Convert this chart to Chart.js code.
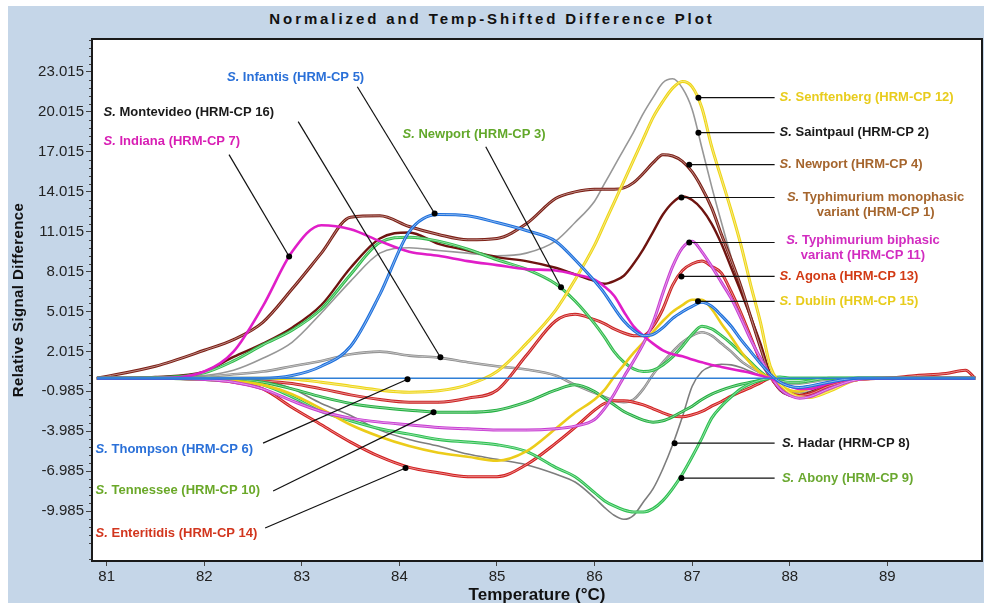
<!DOCTYPE html>
<html>
<head>
<meta charset="utf-8">
<script src="https://cdn.jsdelivr.net/npm/chart.js@4.4.0/dist/chart.umd.min.js"></script>
<style>
  html, body { margin: 0; padding: 0; background: #fff; }
  #panel { position: absolute; left: 8px; top: 6px; width: 976px; height: 597px; background: #c5d6e8; }
  #title { position: absolute; left: 0; top: 10px; width: 984px; text-align: center; line-height: 18px;
           font: bold 15px "Liberation Sans", Arial, sans-serif; letter-spacing: 2.9px; color: #111; }
  canvas { position: absolute; left: 0; top: 0; }
</style>
</head>
<body>
<div id="panel"></div>
<div id="title">Normalized and Temp-Shifted Difference Plot</div>
<canvas id="chart" width="984" height="603"></canvas>
<script>
// temperatures (°C) shared by every curve
const temps = [80.9, 81.5, 82, 82.3, 82.6, 82.9, 83.2, 83.5, 83.8, 84.1, 84.4, 84.7, 85, 85.3, 85.6,
  85.8, 86, 86.1, 86.2, 86.3, 86.4, 86.5, 86.6, 86.7, 86.8, 86.9, 87, 87.1, 87.2, 87.3, 87.4, 87.5, 87.6, 87.7,
  87.8, 87.9, 88, 88.1, 88.2, 88.4, 88.7, 89, 89.3, 89.6, 89.8, 89.9];

const xTicks = [81, 82, 83, 84, 85, 86, 87, 88, 89];
const yTicks = [-9.985, -6.985, -3.985, -0.985, 2.015, 5.015, 8.015, 11.015, 14.015, 17.015, 20.015, 23.015];

// relative signal difference per isolate
const indiana = [0, 0, 0.5, 2.0, 5.4, 9.5, 11.5, 11.2, 10.3, 9.5, 9.2, 8.8, 8.5, 8.2, 8.1,
  7.8, 7.4, 6.9, 6.2, 5.0, 3.9, 3.2, 2.6, 2.1, 1.8, 1.65, 1.4, 1.2, 1.0, 0.85, 0.7, 0.55, 0.4, 0.2,
  0, -0.3, -0.6, -0.8, -0.8, -0.4, 0, 0, 0, 0, 0, 0];
const biphasic = [0, 0, -0.1, -0.3, -0.8, -1.7, -2.5, -3.0, -3.3, -3.5, -3.7, -3.8, -3.9, -3.9, -3.8,
  -3.6, -3.1, -2.3, -1.2, 0.1, 1.3, 2.6, 4.2, 6.4, 8.4, 9.8, 10.3, 9.5, 8.4, 7.2, 6.0, 4.5, 2.9, 1.5,
  0.2, -0.8, -1.3, -1.5, -1.4, -0.8, -0.1, 0, 0, 0, 0, 0];
const infantis = [0, 0, 0, 0, 0, 0.2, 0.9, 2.4, 6.3, 11.0, 12.3, 12.2, 11.7, 11.1, 10.3,
  8.9, 7.3, 6.4, 5.3, 4.3, 3.6, 3.2, 3.3, 3.8, 4.5, 5.0, 5.4, 5.7, 5.4, 4.7, 3.9, 2.9, 2.0, 1.1,
  0.3, -0.3, -0.6, -0.7, -0.6, -0.3, 0, 0, 0, 0, 0, 0];
const thompson = [0, 0, 0, 0, 0, 0, 0, 0, 0, 0, 0, 0, 0, 0, 0,
  0, 0, 0, 0, 0, 0, 0, 0, 0, 0, 0, 0, 0, 0, 0, 0, 0, 0, 0,
  0, 0, 0, 0, 0, 0, 0, 0, 0, 0, 0, 0];
const montevideo = [0, 0, 0.1, 0.3, 0.5, 0.9, 1.3, 1.8, 2.0, 1.7, 1.55, 1.2, 0.9, 0.65, 0.2,
  -0.5, -1.1, -1.4, -1.7, -1.8, -1.6, -0.8, 0.3, 1.2, 2.0, 2.7, 3.2, 3.45, 3.2, 2.6, 2.0, 1.3, 0.8, 0.4,
  0, -0.3, -0.4, -0.4, -0.3, -0.1, 0, 0, 0, 0, 0, 0];
const hadar = [0, 0, -0.1, -0.15, -0.2, -0.8, -1.9, -2.8, -3.9, -4.6, -5.1, -5.7, -6.1, -6.5, -7.2,
  -7.8, -9.0, -9.7, -10.3, -10.6, -10.3, -9.3, -8.3, -6.8, -5.0, -2.9, -0.6, 0.5, 0.9, 1.05, 1.0, 0.8, 0.5, 0.2,
  0, -0.2, -0.3, -0.3, -0.2, 0, 0, 0, 0, 0, 0, 0];
const saintpaul = [0, 0.05, 0.2, 0.6, 1.5, 2.7, 4.9, 7.3, 9.4, 9.8, 9.6, 9.4, 9.2, 9.4, 10.3,
  11.7, 13.3, 14.6, 15.9, 17.2, 18.5, 19.9, 21.1, 22.2, 22.5, 21.8, 20.2, 17.3, 14.4, 11.7, 9.1, 6.7, 4.6, 2.3,
  0.3, -0.6, -1.0, -1.1, -1.0, -0.5, -0.1, 0, 0, 0, 0, 0];
const senftenberg = [0, 0, 0, 0, 0, -0.05, -0.3, -0.6, -0.9, -1.05, -0.95, -0.5, 0.5, 2.6, 5.1,
  7.4, 10.0, 11.6, 13.2, 14.8, 16.4, 18.0, 19.6, 20.8, 21.8, 22.3, 21.9, 20.3, 17.4, 15.0, 12.6, 10.0, 7.0, 4.2,
  0.9, -0.4, -1.1, -1.4, -1.45, -1.0, -0.1, 0, 0, 0, 0, 0];
const newport4 = [0, 0.9, 2.1, 2.9, 4.2, 6.7, 9.4, 12.1, 12.2, 11.4, 10.8, 10.4, 10.5, 11.6, 13.5,
  14.0, 14.2, 14.2, 14.2, 14.3, 14.7, 15.4, 16.2, 16.8, 16.7, 16.3, 15.5, 14.3, 12.8, 10.8, 8.9, 6.9, 4.6, 2.3,
  0.2, -0.8, -1.2, -1.3, -1.1, -0.5, 0, 0, 0, 0, 0, 0];
const typhimono = [0, 0.1, 0.5, 1.6, 2.6, 3.8, 5.5, 8.3, 10.5, 10.95, 10.1, 9.6, 9.1, 8.8, 8.3,
  7.8, 7.3, 7.1, 7.3, 7.7, 8.6, 9.7, 11.0, 12.3, 13.2, 13.65, 13.4, 12.7, 11.6, 10.1, 8.3, 6.5, 4.6, 2.6,
  0.3, -0.9, -1.3, -1.4, -1.2, -0.6, -0.1, 0, 0, 0, 0, 0];
const agona = [0, 0, -0.05, -0.1, -0.2, -0.4, -0.8, -1.25, -1.6, -1.8, -1.8, -1.5, -0.9, 1.7, 4.3,
  4.8, 4.4, 4.1, 3.7, 3.4, 3.2, 3.2, 3.9, 5.2, 7.0, 8.1, 8.6, 8.8, 8.4, 7.9, 6.5, 4.9, 3.1, 1.3,
  0.1, -0.8, -1.2, -1.3, -1.2, -0.6, -0.1, 0, 0.2, 0.35, 0.6, 0];
const dublin = [0, 0, -0.1, -0.2, -0.5, -1.2, -2.3, -3.5, -4.4, -5.1, -5.6, -5.9, -6.2, -5.5, -3.8,
  -2.6, -1.6, -0.9, 0.1, 1.0, 1.9, 2.7, 3.5, 4.3, 5.0, 5.5, 5.9, 5.9, 5.2, 4.1, 3.1, 2.0, 1.1, 0.4,
  0, -0.5, -0.9, -1.0, -0.8, -0.3, 0, 0, 0, 0, 0, 0];
const enteritidis = [0, 0, -0.1, -0.3, -0.8, -2.2, -3.5, -4.8, -5.9, -6.7, -7.1, -7.4, -7.4, -6.5, -4.9,
  -3.7, -2.4, -1.9, -1.7, -1.7, -1.8, -2.0, -2.3, -2.6, -2.85, -2.9, -2.75, -2.5, -2.1, -1.75, -1.35, -1.0, -0.7, -0.35,
  0, -0.6, -1.1, -1.3, -1.2, -0.6, -0.1, 0, 0, 0, 0, 0];
const abony = [0, 0, -0.1, -0.2, -0.5, -1.4, -2.5, -3.2, -3.8, -4.2, -4.6, -4.8, -5.0, -5.5, -6.7,
  -7.4, -8.6, -9.2, -9.6, -9.9, -10.05, -10.05, -9.8, -9.2, -8.3, -7.2, -5.9, -4.5, -3.0, -2.1, -1.4, -0.8, -0.4, -0.15,
  0, 0.1, 0, 0, 0, 0, 0, 0, 0, 0, 0, 0];
const tennessee = [0, 0, 0, -0.1, -0.3, -0.8, -1.4, -1.9, -2.2, -2.4, -2.55, -2.55, -2.4, -1.8, -0.9,
  -0.5, -1.0, -1.5, -2.0, -2.5, -2.85, -3.15, -3.3, -3.2, -2.9, -2.5, -2.1, -1.6, -1.2, -0.9, -0.65, -0.45, -0.3, -0.15,
  0, 0, 0, 0, 0, 0, 0, 0, 0, 0, 0, 0];
const newport3 = [0, 0.05, 0.4, 1.3, 2.5, 3.6, 5.2, 7.8, 10.2, 10.6, 10.3, 9.7, 8.9, 8.2, 7.1,
  5.8, 4.1, 3.1, 2.0, 1.2, 0.7, 0.5, 0.6, 1.0, 1.6, 2.4, 3.3, 3.9, 3.7, 3.2, 2.6, 1.9, 1.2, 0.5,
  0, -0.2, -0.3, -0.3, -0.2, 0, 0, 0, 0, 0, 0, 0];

// first entry is drawn on top; "pair" curves get a pale core so they read as replicate pairs
const curves = [
  { name: 'Thompson', values: thompson, color: '#2f7fd6', width: 1.6 },
  { name: 'Infantis', values: infantis, color: '#1c6fdc', width: 3, pair: true },
  { name: 'Indiana', values: indiana, color: '#e01ec8', width: 2.6 },
  { name: 'Typhimurium biphasic', values: biphasic, color: '#c83cd2', width: 3, pair: true },
  { name: 'Senftenberg', values: senftenberg, color: '#eed514', width: 3, pair: true },
  { name: 'Dublin', values: dublin, color: '#eccc1a', width: 2.6 },
  { name: 'Newport 3', values: newport3, color: '#30bc4c', width: 3, pair: true },
  { name: 'Abony', values: abony, color: '#2cc050', width: 3, pair: true },
  { name: 'Tennessee', values: tennessee, color: '#22b040', width: 3, pair: true },
  { name: 'Agona', values: agona, color: '#cc2222', width: 3, pair: true },
  { name: 'Enteritidis', values: enteritidis, color: '#d21e1e', width: 3, pair: true },
  { name: 'Newport 4', values: newport4, color: '#7b1e14', width: 3, pair: true },
  { name: 'Typhimurium monophasic', values: typhimono, color: '#6e1410', width: 2.4 },
  { name: 'Saintpaul', values: saintpaul, color: '#979797', width: 1.6 },
  { name: 'Montevideo', values: montevideo, color: '#8c8c8c', width: 2.6, pair: true },
  { name: 'Hadar', values: hadar, color: '#7d7d7d', width: 1.6 }
];

// callouts: text anchor, leader start and dot, all in chart units
const notes = [
  { lines: ['S. Infantis (HRM-CP 5)'], color: '#2a70d8', at: [82.233, 22.58], from: [83.569, 21.9], dot: [84.361, 12.38] },
  { lines: ['S. Montevideo (HRM-CP 16)'], color: '#1a1a1a', at: [80.969, 19.95], from: [82.963, 19.28], dot: [84.42, 1.58] },
  { lines: ['S. Indiana (HRM-CP 7)'], color: '#d81eb4', at: [80.969, 17.78], from: [82.254, 16.8], dot: [82.87, 9.15] },
  { lines: ['S. Newport (HRM-CP 3)'], color: '#62a82a', at: [84.032, 18.3], from: [84.885, 17.4], dot: [85.656, 6.83] },
  { lines: ['S. Thompson (HRM-CP 6)'], color: '#2a70d8', at: [80.887, -5.33], from: [82.603, -4.88], dot: [84.083, -0.08] },
  { lines: ['S. Tennessee (HRM-CP 10)'], color: '#6aa828', at: [80.887, -8.4], from: [82.706, -8.48], dot: [84.35, -2.55] },
  { lines: ['S. Enteritidis (HRM-CP 14)'], color: '#d2361e', at: [80.887, -11.63], from: [82.624, -11.25], dot: [84.063, -6.75] },
  { lines: ['S. Senftenberg (HRM-CP 12)'], color: '#e8cc1c', at: [87.896, 21.08], from: [87.845, 21.08], dot: [87.064, 21.08] },
  { lines: ['S. Saintpaul (HRM-CP 2)'], color: '#1a1a1a', at: [87.896, 18.45], from: [87.845, 18.45], dot: [87.064, 18.45] },
  { lines: ['S. Newport (HRM-CP 4)'], color: '#a5652d', at: [87.896, 16.05], from: [87.845, 16.05], dot: [86.97, 16.05] },
  { lines: ['S. Typhimurium monophasic', 'variant (HRM-CP 1)'], center: true, color: '#a5652d', at: [88.88, 13.58], from: [87.845, 13.58], dot: [86.89, 13.58] },
  { lines: ['S. Typhimurium biphasic', 'variant (HRM-CP 11)'], center: true, color: '#d22cc0', at: [88.75, 10.35], from: [87.845, 10.2], dot: [86.97, 10.2] },
  { lines: ['S. Agona (HRM-CP 13)'], color: '#d23a14', at: [87.896, 7.65], from: [87.845, 7.65], dot: [86.89, 7.65] },
  { lines: ['S. Dublin (HRM-CP 15)'], color: '#e8cc1c', at: [87.896, 5.78], from: [87.845, 5.78], dot: [87.06, 5.78] },
  { lines: ['S. Hadar (HRM-CP 8)'], color: '#1a1a1a', at: [87.92, -4.88], from: [87.845, -4.88], dot: [86.82, -4.88] },
  { lines: ['S. Abony (HRM-CP 9)'], color: '#6aa830', at: [87.92, -7.5], from: [87.845, -7.5], dot: [86.89, -7.5] }
];

const FONT = '"Liberation Sans", Arial, sans-serif';

// mix a hex colour with white
function pale(hex, k) {
  const n = parseInt(hex.slice(1), 16);
  const r = (n >> 16) & 255, g = (n >> 8) & 255, b = n & 255;
  const m = c => Math.round(c + (255 - c) * k);
  return 'rgb(' + m(r) + ',' + m(g) + ',' + m(b) + ')';
}

function drawNoteLine(ctx, text, x, y, center) {
  let head = '', rest = text;
  if (text.startsWith('S. ')) { head = 'S.'; rest = text.slice(2); }
  ctx.font = 'italic bold 13px ' + FONT;
  const wHead = head ? ctx.measureText(head).width : 0;
  ctx.font = 'bold 13px ' + FONT;
  const wRest = ctx.measureText(rest).width;
  let left = center ? x - (wHead + wRest) / 2 : x;
  if (head) {
    ctx.font = 'italic bold 13px ' + FONT;
    ctx.fillText(head, left, y);
  }
  ctx.font = 'bold 13px ' + FONT;
  ctx.fillText(rest, left + wHead, y);
}

const framePlugin = {
  id: 'frame',
  beforeDraw(chart) {
    const a = chart.chartArea, ctx = chart.ctx;
    ctx.save();
    ctx.fillStyle = '#ffffff';
    ctx.fillRect(a.left, a.top, a.right - a.left, a.bottom - a.top);
    ctx.restore();
  },
  afterDatasetsDraw(chart) {
    const ctx = chart.ctx, xs = chart.scales.x, ys = chart.scales.y;
    ctx.save();
    notes.forEach(n => {
      const dx = xs.getPixelForValue(n.dot[0]), dy = ys.getPixelForValue(n.dot[1]);
      const fx = xs.getPixelForValue(n.from[0]), fy = ys.getPixelForValue(n.from[1]);
      ctx.strokeStyle = '#111';
      ctx.lineWidth = 1.2;
      ctx.beginPath();
      ctx.moveTo(fx, fy);
      ctx.lineTo(dx, dy);
      ctx.stroke();
      ctx.fillStyle = '#000';
      ctx.beginPath();
      ctx.arc(dx, dy, 3, 0, Math.PI * 2);
      ctx.fill();
      const tx = xs.getPixelForValue(n.at[0]), ty = ys.getPixelForValue(n.at[1]);
      ctx.fillStyle = n.color;
      ctx.textBaseline = 'middle';
      ctx.textAlign = 'left';
      n.lines.forEach((l, i) => drawNoteLine(ctx, l, tx, ty + i * 15, n.center));
    });
    ctx.restore();
  },
  afterDraw(chart) {
    const a = chart.chartArea, ctx = chart.ctx, ys = chart.scales.y;
    ctx.save();
    // minor ticks on the value axis
    ctx.strokeStyle = '#444';
    ctx.lineWidth = 1;
    for (let k = -6; k <= 60; k++) {
      const v = -9.985 + k * 0.6;
      if (v < ys.min || v > ys.max || k % 5 === 0) continue;
      const py = Math.round(ys.getPixelForValue(v)) + 0.5;
      ctx.beginPath();
      ctx.moveTo(a.left - 3, py);
      ctx.lineTo(a.left, py);
      ctx.stroke();
    }
    ctx.strokeStyle = '#1a1a1a';
    ctx.lineWidth = 2;
    ctx.strokeRect(a.left, a.top, a.right - a.left, a.bottom - a.top);
    // axis titles
    ctx.fillStyle = '#111';
    ctx.textAlign = 'center';
    ctx.textBaseline = 'middle';
    ctx.font = 'bold 17px ' + FONT;
    ctx.fillText('Temperature (°C)', (a.left + a.right) / 2, 595);
    ctx.translate(19, 300);
    ctx.rotate(-Math.PI / 2);
    ctx.font = 'bold 15px ' + FONT;
    if ('letterSpacing' in ctx) ctx.letterSpacing = '0.4px';
    ctx.fillText('Relative Signal Difference', 0, 0);
    ctx.restore();
  }
};

const datasets = [];
curves.forEach(c => {
  const pts = temps.map((t, i) => ({ x: t, y: c.values[i] }));
  if (c.pair) {
    datasets.push({ label: c.name + ' core', data: pts, borderColor: pale(c.color, 0.55), borderWidth: 0.9,
      pointRadius: 0, fill: false, cubicInterpolationMode: 'monotone' });
  }
  datasets.push({ label: c.name, data: pts, borderColor: c.color, borderWidth: c.width,
    pointRadius: 0, fill: false, cubicInterpolationMode: 'monotone' });
});

new Chart(document.getElementById('chart'), {
  type: 'line',
  data: { datasets },
  options: {
    responsive: false,
    animation: false,
    layout: { padding: { top: 39, right: 2, left: 0, bottom: 0 } },
    plugins: { legend: { display: false }, tooltip: { enabled: false } },
    scales: {
      x: {
        type: 'linear',
        min: 80.85,
        max: 89.97,
        afterBuildTicks: s => { s.ticks = xTicks.map(v => ({ value: v })); },
        afterFit: s => { s.height = 42; },
        ticks: { color: '#222', padding: 2, font: { family: FONT, size: 15 }, callback: v => String(v) },
        grid: { drawOnChartArea: false, tickLength: 5, tickColor: '#444' },
        border: { color: '#1a1a1a', width: 2 }
      },
      y: {
        min: -13.735,
        max: 25.49,
        afterBuildTicks: s => { s.ticks = yTicks.map(v => ({ value: v })); },
        afterFit: s => { s.width = 92; },
        ticks: { color: '#222', padding: 2, font: { family: FONT, size: 15 }, callback: v => v.toFixed(3) },
        grid: { drawOnChartArea: false, tickLength: 6, tickColor: '#444' },
        border: { color: '#1a1a1a', width: 2 }
      }
    }
  },
  plugins: [framePlugin]
});
</script>
</body>
</html>
